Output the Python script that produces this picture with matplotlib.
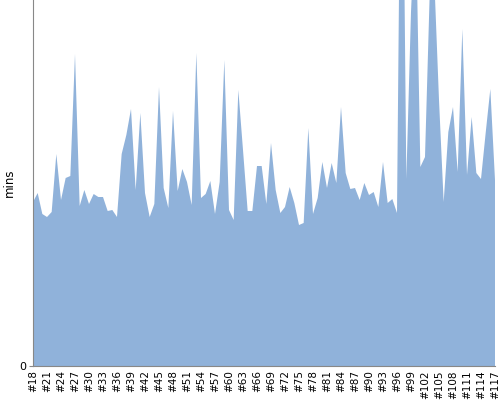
import matplotlib
matplotlib.use('Agg')
import matplotlib.pyplot as plt
import numpy as np

# build numbers #18 .. #117
builds = ['#%d' % n for n in range(18, 118)]

# minutes per build (top of chart is clipped)
mins = [16.4, 17.3, 15.2, 14.9, 15.4, 21.2, 16.6, 18.8, 19.0, 31.2,
        16.0, 17.6, 16.2, 17.2, 16.9, 16.9, 15.5, 15.6, 14.9, 21.2,
        23.1, 25.7, 17.6, 25.3, 17.3, 14.9, 16.2, 27.9, 17.8, 15.8,
        25.5, 17.5, 19.7, 18.4, 16.1, 31.3, 16.8, 17.2, 18.5, 15.2,
        18.4, 30.6, 15.6, 14.6, 27.6, 21.6, 15.5, 15.5, 20.0, 20.0,
        16.2, 22.3, 17.6, 15.3, 15.9, 17.9, 16.3, 14.1, 14.3, 23.8,
        15.2, 16.8, 20.4, 17.8, 20.3, 18.3, 25.9, 19.3, 17.7, 17.8,
        16.6, 18.3, 17.1, 17.4, 15.9, 20.4, 16.3, 16.7, 15.3, 66.6,
        18.7, 35.4, 45.9, 19.9, 20.9, 37.1, 38.6, 26.6, 16.4, 23.4,
        25.9, 19.4, 33.7, 19.1, 24.9, 19.3, 18.7, 23.3, 27.7, 18.6]

fig = plt.figure(figsize=(5, 4), dpi=100)
ax = fig.add_axes([0.066, 0.085, 0.924, 0.915])

x = np.arange(len(builds))
ax.fill_between(x, mins, 0, color='#90b2da', linewidth=0)

ax.set_xlim(0, len(builds) - 1)
ax.set_ylim(0, 36.6)

ax.set_xticks(x[::3])
ax.set_xticklabels(builds[::3], rotation=90, fontsize=7.5)
ax.tick_params(axis='x', length=0, pad=3)
ax.set_yticks([0])
ax.tick_params(axis='y', length=3, color='#888888', labelsize=8, pad=2)

for side in ['top', 'right']:
    ax.spines[side].set_visible(False)
for side in ['left', 'bottom']:
    ax.spines[side].set_color('#888888')

ax.set_ylabel('mins', fontsize=8.5)
ax.yaxis.set_label_coords(-0.038, 0.5)

fig.savefig('out.png', dpi=100)
